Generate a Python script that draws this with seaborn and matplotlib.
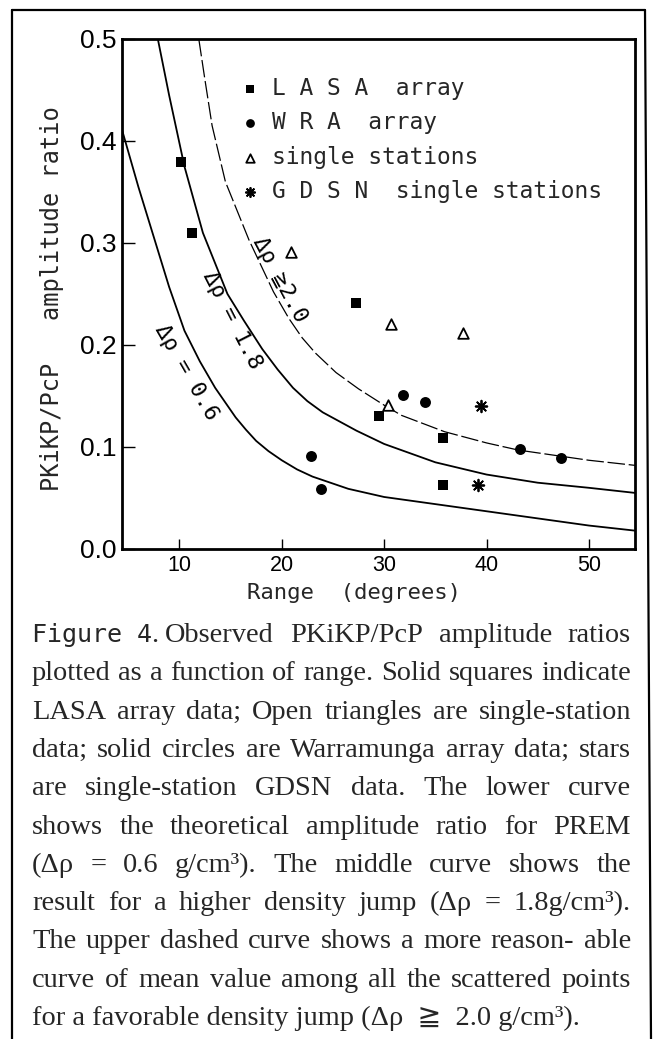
import matplotlib
matplotlib.use("Agg")
import matplotlib.pyplot as plt
import seaborn as sns
from matplotlib.lines import Line2D
from matplotlib.font_manager import FontProperties

# ---------------- data ----------------
lasa_x = [10.2, 11.2, 27.3, 29.5, 35.75, 35.75]
lasa_y = [0.379, 0.310, 0.241, 0.130, 0.1085, 0.063]
wra_x = [22.9, 23.8, 31.8, 34.0, 43.3, 47.3]
wra_y = [0.091, 0.059, 0.151, 0.144, 0.098, 0.089]
single_x = [20.9, 30.7, 37.7, 30.4]
single_y = [0.291, 0.221, 0.212, 0.141]
gdsn_x = [39.5, 39.2]
gdsn_y = [0.140, 0.063]

# theoretical curves
low_x = [4.4, 6.0, 7.5, 9.0, 10.5, 12.0, 13.5, 15.5, 16.5, 17.5, 18.7, 20.0, 21.5, 23.0, 26.5, 30.0, 35.0, 40.0, 45.0, 50.0, 54.5]
low_y = [0.411, 0.355, 0.306, 0.257, 0.214, 0.184, 0.158, 0.129, 0.117, 0.106, 0.096, 0.087, 0.078, 0.071, 0.059, 0.051, 0.044, 0.037, 0.030, 0.023, 0.018]
mid_x = [7.9, 9.0, 10.5, 12.3, 14.7, 16.3, 18.1, 19.6, 21.1, 22.5, 24.0, 27.3, 30.0, 35.0, 40.0, 45.0, 50.0, 54.5]
mid_y = [0.500, 0.445, 0.375, 0.310, 0.250, 0.224, 0.196, 0.176, 0.158, 0.145, 0.134, 0.116, 0.103, 0.085, 0.073, 0.065, 0.060, 0.055]
up_x = [11.9, 12.5, 13.2, 14.5, 16.8, 19.2, 20.7, 22.0, 23.3, 25.3, 27.5, 30.0, 31.7, 35.9, 40.0, 43.1, 50.0, 54.5]
up_y = [0.500, 0.460, 0.415, 0.360, 0.303, 0.252, 0.226, 0.207, 0.192, 0.173, 0.157, 0.141, 0.131, 0.115, 0.104, 0.097, 0.087, 0.082]

legend_labels = ["L A S A  array", "W R A  array", "single stations", "G D S N  single stations"]
curve_labels = ["Δρ = 0.6", "Δρ = 1.8", "Δρ ≧2.0"]
yticks = [0.0, 0.1, 0.2, 0.3, 0.4, 0.5]
xticks = [10, 20, 30, 40, 50]

caption_head = "Figure 4"
caption_first = "Observed PKiKP/PcP amplitude ratios"
caption_lines = [
    "plotted as a function of range. Solid squares indicate",
    "LASA array data; Open triangles are single-station",
    "data; solid circles are Warramunga array data; stars",
    "are single-station GDSN data. The lower curve",
    "shows the theoretical amplitude ratio for PREM",
    "(Δρ = 0.6 g/cm³). The middle curve shows the",
    "result for a higher density jump (Δρ = 1.8g/cm³).",
    "The upper dashed curve shows a more reason- able",
    "curve of mean value among all the scattered points",
]
caption_last = "for a favorable density jump (Δρ  ≧  2.0 g/cm³)."

# ---------------- style ----------------
sns.set_style("white")
plt.rcParams["font.family"] = ["DejaVu Sans", "Noto Sans CJK JP"]

W, H = 654, 1039
fig = plt.figure(figsize=(W / 100, H / 100), dpi=100)


def fx(px):
    return px / W


def fy(py):
    return 1 - py / H


ax = fig.add_axes([fx(122), fy(549), (635 - 122) / W, (549 - 39) / H])
ax.set_facecolor("white")

# curves
sns.lineplot(x=low_x, y=low_y, ax=ax, color="black", lw=1.3, estimator=None, sort=False)
sns.lineplot(x=mid_x, y=mid_y, ax=ax, color="black", lw=1.3, estimator=None, sort=False)
sns.lineplot(x=up_x, y=up_y, ax=ax, color="black", lw=0.9, estimator=None, sort=False,
             linestyle=(0, (14, 3)))

# points
sns.scatterplot(x=lasa_x, y=lasa_y, ax=ax, marker="s", s=42, color="black", linewidth=0,
                label=legend_labels[0], zorder=5)
sns.scatterplot(x=wra_x, y=wra_y, ax=ax, marker="o", s=62, color="black", linewidth=0,
                label=legend_labels[1], zorder=5)
sns.scatterplot(x=single_x, y=single_y, ax=ax, marker="^", s=58, color="white",
                edgecolor="black", linewidth=1.3, label=legend_labels[2], zorder=5)
sns.scatterplot(x=gdsn_x, y=gdsn_y, ax=ax, marker=(8, 2, 0), s=70, color="black",
                linewidth=1.3, label=legend_labels[3], zorder=5)

ax.set_xlim(4.4, 54.5)
ax.set_ylim(0.0, 0.5)

sans = ["Liberation Sans", "DejaVu Sans"]
ax.set_yticks(yticks)
ax.set_yticklabels([f"{v:.1f}" for v in yticks],
                   fontproperties=FontProperties(family=sans, size=19))
ax.set_xticks(xticks)
ax.set_xticklabels([str(v) for v in xticks],
                   fontproperties=FontProperties(family=sans, size=15.5))
ax.tick_params(axis="y", left=True, direction="in", length=9.5, width=1, pad=4, colors="black")
ax.tick_params(axis="x", bottom=True, direction="in", length=7.5, width=1, pad=4.5, colors="black")
for sp in ax.spines.values():
    sp.set_linewidth(2.0)
    sp.set_color("black")

mono = ["DejaVu Sans Mono", "DejaVu Sans", "Noto Sans CJK JP"]
ax.set_ylabel("PKiKP/PcP   amplitude ratio", fontproperties=FontProperties(family=mono, size=17))
ax.yaxis.set_label_coords(-0.1365, 0.491)
ax.yaxis.label.set_va("center")
ax.set_xlabel("Range  (degrees)", fontproperties=FontProperties(family=mono, size=16))
ax.xaxis.set_label_coords(0.453, -0.0863)
ax.xaxis.label.set_va("center")

# curve labels
for (lx, ly, rot), lab in zip([(10.7, 0.173, -60), (15.2, 0.224, -63), (19.8, 0.264, -62)], curve_labels):
    ax.text(lx, ly, lab, rotation=rot, rotation_mode="anchor", ha="center", va="center",
            family=mono, fontsize=16, color="black")

# legend
handles, labels = ax.get_legend_handles_labels()
ax.legend(handles, labels, loc="upper left", bbox_to_anchor=(0.232, 0.926), frameon=False,
          borderpad=0, borderaxespad=0, handlelength=0.8, handletextpad=0.55,
          labelspacing=0.50, markerscale=0.8,
          prop=FontProperties(family=mono, size=16.5))

# outer frame
for xs, ys in [([12, 12], [10, 1039]), ([12, 645], [10, 10]), ([645, 651], [10, 1039])]:
    fig.add_artist(Line2D([fx(v) for v in xs], [fy(v) for v in ys], transform=fig.transFigure,
                          color="black", lw=1.6))

# caption
serif = ["Liberation Serif", "DejaVu Serif", "DejaVu Sans", "Noto Sans CJK JP"]
renderer = fig.canvas.get_renderer()


def text_width(s, size):
    t = fig.text(0, 0, s, family=serif, size=size)
    w = t.get_window_extent(renderer).width
    t.remove()
    return w


left, right = 32, 631
first_left = 165
base = 20
ratios = [(right - left) / text_width(l, base) for l in caption_lines]
ratios.append((right - first_left) / text_width(caption_first, base))
csize = min(21.0, base * min(ratios) * 0.995)


def justify(line, x0, x1, baseline):
    words = line.split(" ")
    ws = [text_width(w, csize) for w in words]
    gap = (x1 - x0 - sum(ws)) / max(len(words) - 1, 1)
    x = x0
    for w, wd in zip(words, ws):
        fig.text(fx(x), fy(baseline), w, family=serif, size=csize, ha="left", va="baseline")
        x += wd + gap


b0, step = 642, 38.3
fig.text(fx(32), fy(b0), caption_head, family=mono, size=18, ha="left", va="baseline")
fig.text(fx(151), fy(b0), ".", family=serif, size=csize, ha="left", va="baseline")
justify(caption_first, first_left, right, b0)
for i, line in enumerate(caption_lines):
    justify(line, left, right, b0 + step * (i + 1))
fig.text(fx(left), fy(b0 + step * 10), caption_last, family=serif, size=csize,
         ha="left", va="baseline")

fig.savefig("out.png", dpi=100)
